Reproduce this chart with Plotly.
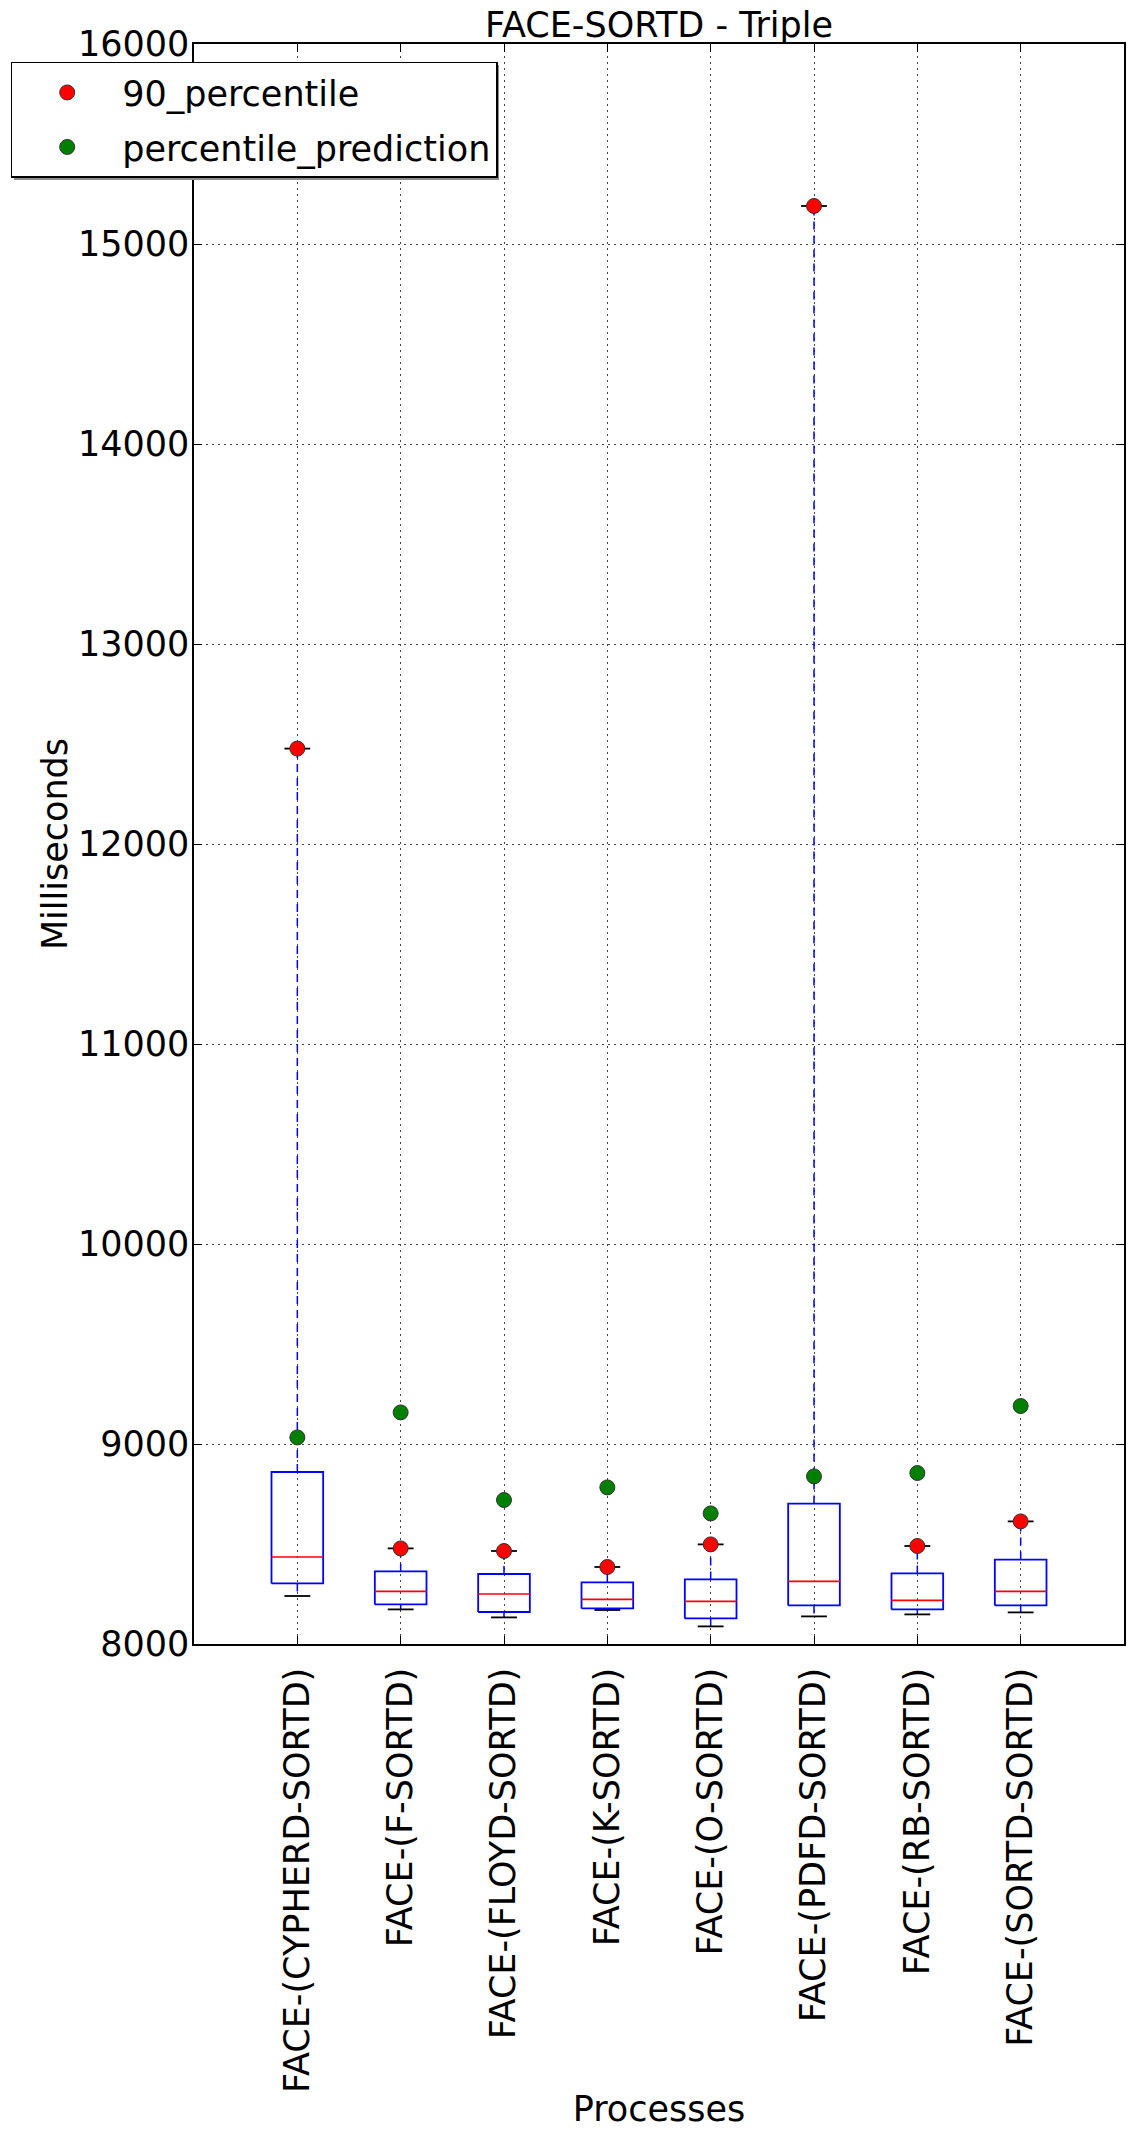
import plotly.graph_objects as go

categories = ["FACE-(CYPHERD-SORTD)", "FACE-(F-SORTD)", "FACE-(FLOYD-SORTD)", "FACE-(K-SORTD)",
              "FACE-(O-SORTD)", "FACE-(PDFD-SORTD)", "FACE-(RB-SORTD)", "FACE-(SORTD-SORTD)"]
q1 = [8303, 8198, 8160, 8178, 8128, 8193, 8173, 8193]
median = [8435, 8263, 8250, 8223, 8213, 8313, 8218, 8263]
q3 = [8860, 8363, 8350, 8308, 8323, 8702, 8353, 8422]
whisker_low = [8240, 8173, 8133, 8170, 8088, 8138, 8148, 8158]
whisker_high = [12477, 8478, 8465, 8385, 8498, 15190, 8490, 8613]
p90 = [12477, 8478, 8465, 8385, 8498, 15190, 8490, 8613]
prediction = [9033, 9158, 8720, 8783, 8653, 8838, 8855, 9190]

positions = list(range(1, len(categories) + 1))
BOX_HALF = 0.25
CAP_HALF = 0.125
FONT = "DejaVu Sans"
FS = 35

bx, by, mx, my, wx, wy, cx, cy = [], [], [], [], [], [], [], []
for p, a, m, b, lo, hi in zip(positions, q1, median, q3, whisker_low, whisker_high):
    bx += [p - BOX_HALF, p + BOX_HALF, p + BOX_HALF, p - BOX_HALF, p - BOX_HALF, None]
    by += [a, a, b, b, a, None]
    mx += [p - BOX_HALF, p + BOX_HALF, None]
    my += [m, m, None]
    wx += [p, p, None, p, p, None]
    wy += [b, hi, None, a, lo, None]
    cx += [p - CAP_HALF, p + CAP_HALF, None, p - CAP_HALF, p + CAP_HALF, None]
    cy += [hi, hi, None, lo, lo, None]

fig = go.Figure()
fig.add_trace(go.Scatter(x=wx, y=wy, mode="lines", showlegend=False, hoverinfo="skip",
                         line=dict(color="#0000ff", width=1.5, dash="8px,6px")))
fig.add_trace(go.Scatter(x=bx, y=by, mode="lines", showlegend=False, hoverinfo="skip",
                         line=dict(color="#0000ff", width=1.8)))
fig.add_trace(go.Scatter(x=mx, y=my, mode="lines", showlegend=False, hoverinfo="skip",
                         line=dict(color="#ff0000", width=1.6)))
fig.add_trace(go.Scatter(x=cx, y=cy, mode="lines", showlegend=False, hoverinfo="skip",
                         line=dict(color="black", width=1.8)))
fig.add_trace(go.Scatter(x=positions, y=p90, mode="markers", name="90_percentile", legendgroup="a",
                         marker=dict(color="#ff0000", size=15, line=dict(color="#333333", width=1))))
fig.add_trace(go.Scatter(x=positions, y=prediction, mode="markers", name="percentile_prediction",
                         legendgroup="b",
                         marker=dict(color="#007f00", size=15, line=dict(color="#333333", width=1))))

axis_common = dict(showline=True, mirror="ticks", linecolor="black", linewidth=1.5,
                   ticks="inside", ticklen=8, tickwidth=1, tickcolor="black",
                   showgrid=True, gridcolor="#444444", gridwidth=1, griddash="2px,4px",
                   zeroline=False, tickfont=dict(family=FONT, size=FS, color="black"))

fig.update_xaxes(range=[0, 9], tickmode="array", tickvals=positions, ticktext=categories,
                 tickangle=-90, ticklabelstandoff=8,
                 title=dict(text="Processes", font=dict(family=FONT, size=FS, color="black"), standoff=12),
                 **axis_common)
fig.update_yaxes(range=[8000, 16000], dtick=1000, tick0=8000, tickformat="d", ticklabelstandoff=-4,
                 title=dict(text="Milliseconds", font=dict(family=FONT, size=FS, color="black"), standoff=0),
                 **axis_common)

# legend drop shadow (paper coordinates derived from pixel layout)
W, H = 1133, 2129
L, R, T, B = 194, 9, 44, 485
pw, ph = W - L - R, H - T - B
def px_x(v):
    return (v - L) / pw
def px_y(v):
    return 1 - (v - T) / ph

fig.add_shape(type="rect", xref="paper", yref="paper",
              x0=px_x(14), x1=px_x(499), y0=px_y(180), y1=px_y(65),
              fillcolor="#8c8c8c", line=dict(width=0), layer="above")

fig.update_layout(
    width=W, height=H,
    margin=dict(l=L, r=R, t=T, b=B, autoexpand=False),
    paper_bgcolor="white", plot_bgcolor="white",
    font=dict(family=FONT, size=FS, color="black"),
    title=dict(text="FACE-SORTD - Triple", x=(194 + 1124) / 2 / W, xanchor="center",
               y=1 - 25 / H, yanchor="middle", yref="container",
               font=dict(family=FONT, size=FS, color="black")),
    legend=dict(x=px_x(10.7), y=px_y(61.7), xanchor="left", yanchor="top",
                bgcolor="white", bordercolor="black", borderwidth=1.5, tracegroupgap=6,
                font=dict(family=FONT, size=FS, color="black"), itemwidth=100),
    showlegend=True,
)

fig.write_html("out.html")
